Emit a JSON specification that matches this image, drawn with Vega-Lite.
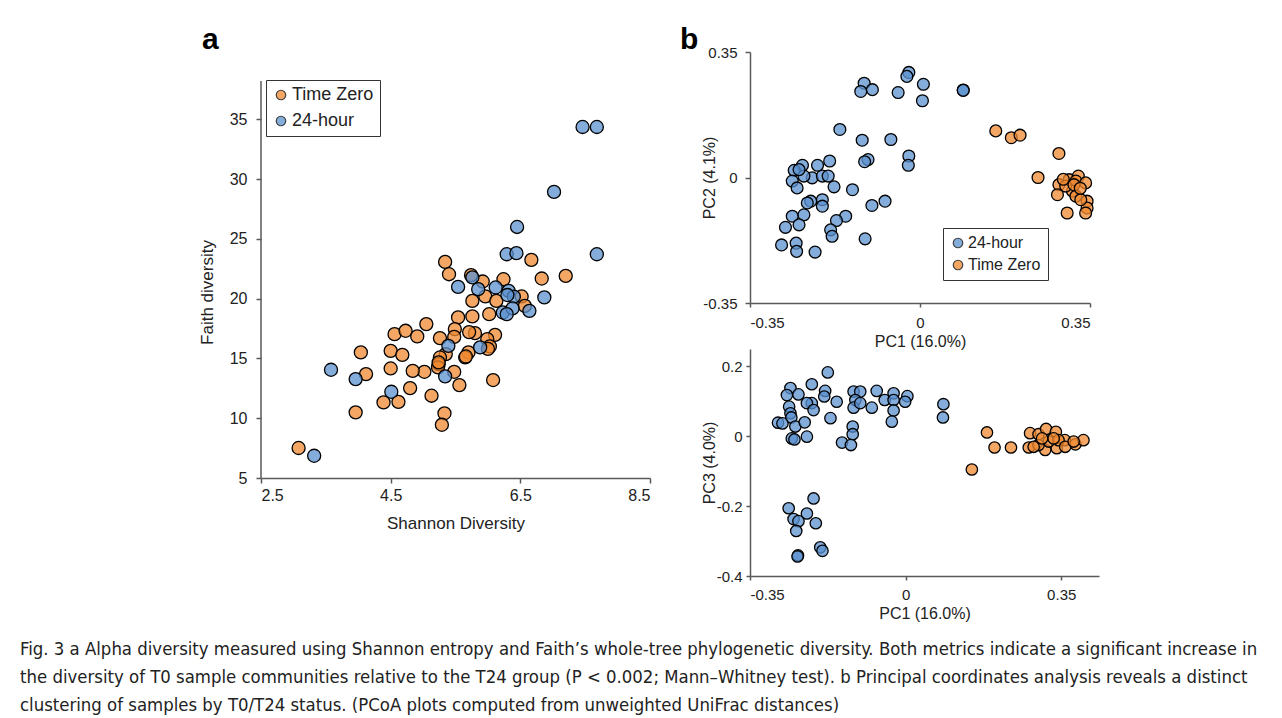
{
  "$schema": "https://vega.github.io/schema/vega-lite/v6.json",
  "padding": {"left": 20, "top": 25, "right": 5, "bottom": 2},
  "background": "white",
  "config": {
    "font": "Liberation Sans",
    "view": {"stroke": null},
    "axis": {"grid": false, "domainColor": "#595959", "domainWidth": 1.5, "tickColor": "#595959", "tickWidth": 1.5, "labelColor": "#222222", "titleColor": "#222222", "titleFontWeight": "normal", "labelFont": "Liberation Sans", "titleFont": "Liberation Sans", "labelExpr": "replace(format(datum.value, '~g'), '−', '-')"},
    "legend": {"title": null, "strokeColor": "#333333", "fillColor": "white", "symbolType": "circle", "symbolStrokeColor": "black", "symbolStrokeWidth": 1.2, "labelFont": "Liberation Sans", "labelColor": "#222222"}
  },
  "datasets": {
    "alpha": [
      {"g": "Time Zero", "x": 3.08, "y": 7.51}, {"g": "Time Zero", "x": 5.34, "y": 23.07}, {"g": "Time Zero", "x": 5.40, "y": 22.04}, {"g": "Time Zero", "x": 5.74, "y": 21.96}, {"g": "Time Zero", "x": 5.92, "y": 21.43}, {"g": "Time Zero", "x": 6.24, "y": 21.62}, {"g": "Time Zero", "x": 6.67, "y": 23.24}, {"g": "Time Zero", "x": 6.83, "y": 21.68}, {"g": "Time Zero", "x": 7.20, "y": 21.90}, {"g": "Time Zero", "x": 6.52, "y": 20.18}, {"g": "Time Zero", "x": 6.57, "y": 19.39}, {"g": "Time Zero", "x": 5.76, "y": 19.81}, {"g": "Time Zero", "x": 5.96, "y": 20.18}, {"g": "Time Zero", "x": 6.13, "y": 19.81}, {"g": "Time Zero", "x": 6.02, "y": 18.70}, {"g": "Time Zero", "x": 5.76, "y": 18.51}, {"g": "Time Zero", "x": 5.54, "y": 18.43}, {"g": "Time Zero", "x": 5.05, "y": 17.87}, {"g": "Time Zero", "x": 4.56, "y": 17.03}, {"g": "Time Zero", "x": 4.73, "y": 17.31}, {"g": "Time Zero", "x": 4.91, "y": 16.84}, {"g": "Time Zero", "x": 5.26, "y": 16.70}, {"g": "Time Zero", "x": 5.49, "y": 17.45}, {"g": "Time Zero", "x": 5.48, "y": 16.80}, {"g": "Time Zero", "x": 5.80, "y": 17.11}, {"g": "Time Zero", "x": 6.11, "y": 16.97}, {"g": "Time Zero", "x": 5.99, "y": 16.61}, {"g": "Time Zero", "x": 6.03, "y": 16.00}, {"g": "Time Zero", "x": 5.70, "y": 15.50}, {"g": "Time Zero", "x": 5.65, "y": 15.08}, {"g": "Time Zero", "x": 5.35, "y": 15.36}, {"g": "Time Zero", "x": 5.26, "y": 15.08}, {"g": "Time Zero", "x": 5.24, "y": 14.52}, {"g": "Time Zero", "x": 5.23, "y": 14.25}, {"g": "Time Zero", "x": 5.48, "y": 13.88}, {"g": "Time Zero", "x": 5.56, "y": 12.77}, {"g": "Time Zero", "x": 5.13, "y": 11.88}, {"g": "Time Zero", "x": 5.02, "y": 13.88}, {"g": "Time Zero", "x": 4.84, "y": 13.96}, {"g": "Time Zero", "x": 4.50, "y": 14.16}, {"g": "Time Zero", "x": 4.50, "y": 15.63}, {"g": "Time Zero", "x": 4.68, "y": 15.30}, {"g": "Time Zero", "x": 4.04, "y": 15.50}, {"g": "Time Zero", "x": 4.12, "y": 13.69}, {"g": "Time Zero", "x": 4.80, "y": 12.52}, {"g": "Time Zero", "x": 4.39, "y": 11.32}, {"g": "Time Zero", "x": 4.62, "y": 11.37}, {"g": "Time Zero", "x": 3.96, "y": 10.49}, {"g": "Time Zero", "x": 5.33, "y": 10.41}, {"g": "Time Zero", "x": 5.29, "y": 9.45}, {"g": "Time Zero", "x": 6.08, "y": 13.19}, {"g": "Time Zero", "x": 5.66, "y": 15.16}, {"g": "Time Zero", "x": 5.24, "y": 14.67}, {"g": "Time Zero", "x": 5.71, "y": 17.2}, {"g": "Time Zero", "x": 6.0, "y": 15.8},
      {"g": "24-hour", "x": 6.29, "y": 23.71}, {"g": "24-hour", "x": 6.44, "y": 23.80}, {"g": "24-hour", "x": 7.68, "y": 23.71}, {"g": "24-hour", "x": 7.46, "y": 34.35}, {"g": "24-hour", "x": 7.68, "y": 34.35}, {"g": "24-hour", "x": 7.02, "y": 28.92}, {"g": "24-hour", "x": 6.45, "y": 25.99}, {"g": "24-hour", "x": 6.87, "y": 20.10}, {"g": "24-hour", "x": 5.54, "y": 20.98}, {"g": "24-hour", "x": 5.76, "y": 21.77}, {"g": "24-hour", "x": 5.85, "y": 20.79}, {"g": "24-hour", "x": 6.12, "y": 20.93}, {"g": "24-hour", "x": 6.32, "y": 20.65}, {"g": "24-hour", "x": 6.40, "y": 20.16}, {"g": "24-hour", "x": 6.23, "y": 18.84}, {"g": "24-hour", "x": 6.38, "y": 19.18}, {"g": "24-hour", "x": 6.29, "y": 18.70}, {"g": "24-hour", "x": 6.64, "y": 18.98}, {"g": "24-hour", "x": 5.39, "y": 16.05}, {"g": "24-hour", "x": 5.88, "y": 15.92}, {"g": "24-hour", "x": 5.34, "y": 13.50}, {"g": "24-hour", "x": 3.58, "y": 14.05}, {"g": "24-hour", "x": 3.96, "y": 13.27}, {"g": "24-hour", "x": 4.51, "y": 12.21}, {"g": "24-hour", "x": 3.32, "y": 6.86}, {"g": "24-hour", "x": 6.30, "y": 20.3}
    ],
    "pc12": [
      {"g": "24-hour", "x": -0.023, "y": 0.293}, {"g": "24-hour", "x": -0.027, "y": 0.282}, {"g": "24-hour", "x": 0.007, "y": 0.260}, {"g": "24-hour", "x": 0.005, "y": 0.214}, {"g": "24-hour", "x": -0.045, "y": 0.237}, {"g": "24-hour", "x": -0.115, "y": 0.263}, {"g": "24-hour", "x": -0.098, "y": 0.245}, {"g": "24-hour", "x": -0.122, "y": 0.240}, {"g": "24-hour", "x": 0.089, "y": 0.244}, {"g": "24-hour", "x": 0.089, "y": 0.243}, {"g": "24-hour", "x": -0.165, "y": 0.134}, {"g": "24-hour", "x": -0.119, "y": 0.104}, {"g": "24-hour", "x": -0.060, "y": 0.106}, {"g": "24-hour", "x": -0.107, "y": 0.050}, {"g": "24-hour", "x": -0.114, "y": 0.044}, {"g": "24-hour", "x": -0.023, "y": 0.060}, {"g": "24-hour", "x": -0.024, "y": 0.034}, {"g": "24-hour", "x": -0.139, "y": -0.034}, {"g": "24-hour", "x": -0.242, "y": 0.034}, {"g": "24-hour", "x": -0.259, "y": 0.020}, {"g": "24-hour", "x": -0.211, "y": 0.034}, {"g": "24-hour", "x": -0.186, "y": 0.046}, {"g": "24-hour", "x": -0.263, "y": -0.010}, {"g": "24-hour", "x": -0.253, "y": -0.029}, {"g": "24-hour", "x": -0.222, "y": -0.001}, {"g": "24-hour", "x": -0.201, "y": 0.004}, {"g": "24-hour", "x": -0.189, "y": 0.004}, {"g": "24-hour", "x": -0.177, "y": -0.026}, {"g": "24-hour", "x": -0.239, "y": 0.004}, {"g": "24-hour", "x": -0.249, "y": 0.022}, {"g": "24-hour", "x": -0.225, "y": -0.066}, {"g": "24-hour", "x": -0.201, "y": -0.062}, {"g": "24-hour", "x": -0.201, "y": -0.080}, {"g": "24-hour", "x": -0.232, "y": -0.071}, {"g": "24-hour", "x": -0.263, "y": -0.108}, {"g": "24-hour", "x": -0.239, "y": -0.104}, {"g": "24-hour", "x": -0.249, "y": -0.132}, {"g": "24-hour", "x": -0.277, "y": -0.139}, {"g": "24-hour", "x": -0.153, "y": -0.108}, {"g": "24-hour", "x": -0.172, "y": -0.120}, {"g": "24-hour", "x": -0.184, "y": -0.146}, {"g": "24-hour", "x": -0.181, "y": -0.164}, {"g": "24-hour", "x": -0.099, "y": -0.078}, {"g": "24-hour", "x": -0.072, "y": -0.066}, {"g": "24-hour", "x": -0.113, "y": -0.171}, {"g": "24-hour", "x": -0.285, "y": -0.188}, {"g": "24-hour", "x": -0.255, "y": -0.183}, {"g": "24-hour", "x": -0.254, "y": -0.206}, {"g": "24-hour", "x": -0.216, "y": -0.208},
      {"g": "Time Zero", "x": 0.156, "y": 0.130}, {"g": "Time Zero", "x": 0.188, "y": 0.111}, {"g": "Time Zero", "x": 0.206, "y": 0.118}, {"g": "Time Zero", "x": 0.286, "y": 0.067}, {"g": "Time Zero", "x": 0.243, "y": 0.0}, {"g": "Time Zero", "x": 0.286, "y": -0.020}, {"g": "Time Zero", "x": 0.307, "y": -0.006}, {"g": "Time Zero", "x": 0.326, "y": 0.004}, {"g": "Time Zero", "x": 0.321, "y": -0.010}, {"g": "Time Zero", "x": 0.341, "y": -0.015}, {"g": "Time Zero", "x": 0.283, "y": -0.048}, {"g": "Time Zero", "x": 0.314, "y": -0.038}, {"g": "Time Zero", "x": 0.321, "y": -0.052}, {"g": "Time Zero", "x": 0.303, "y": -0.099}, {"g": "Time Zero", "x": 0.344, "y": -0.066}, {"g": "Time Zero", "x": 0.344, "y": -0.085}, {"g": "Time Zero", "x": 0.341, "y": -0.099}, {"g": "Time Zero", "x": 0.331, "y": -0.062}, {"g": "Time Zero", "x": 0.300, "y": -0.024}, {"g": "Time Zero", "x": 0.317, "y": -0.020}, {"g": "Time Zero", "x": 0.295, "y": -0.005}, {"g": "Time Zero", "x": 0.330, "y": -0.030}
    ],
    "pc13": [
      {"g": "24-hour", "x": -0.175, "y": 0.183}, {"g": "24-hour", "x": -0.211, "y": 0.149}, {"g": "24-hour", "x": -0.259, "y": 0.138}, {"g": "24-hour", "x": -0.267, "y": 0.118}, {"g": "24-hour", "x": -0.241, "y": 0.120}, {"g": "24-hour", "x": -0.181, "y": 0.130}, {"g": "24-hour", "x": -0.183, "y": 0.114}, {"g": "24-hour", "x": -0.211, "y": 0.095}, {"g": "24-hour", "x": -0.222, "y": 0.095}, {"g": "24-hour", "x": -0.207, "y": 0.075}, {"g": "24-hour", "x": -0.155, "y": 0.099}, {"g": "24-hour", "x": -0.117, "y": 0.128}, {"g": "24-hour", "x": -0.102, "y": 0.128}, {"g": "24-hour", "x": -0.113, "y": 0.104}, {"g": "24-hour", "x": -0.117, "y": 0.082}, {"g": "24-hour", "x": -0.102, "y": 0.095}, {"g": "24-hour", "x": -0.065, "y": 0.130}, {"g": "24-hour", "x": -0.076, "y": 0.082}, {"g": "24-hour", "x": -0.047, "y": 0.104}, {"g": "24-hour", "x": -0.027, "y": 0.123}, {"g": "24-hour", "x": -0.027, "y": 0.104}, {"g": "24-hour", "x": -0.027, "y": 0.074}, {"g": "24-hour", "x": -0.031, "y": 0.042}, {"g": "24-hour", "x": 0.004, "y": 0.115}, {"g": "24-hour", "x": -0.001, "y": 0.099}, {"g": "24-hour", "x": 0.085, "y": 0.092}, {"g": "24-hour", "x": 0.084, "y": 0.054}, {"g": "24-hour", "x": -0.262, "y": 0.085}, {"g": "24-hour", "x": -0.259, "y": 0.066}, {"g": "24-hour", "x": -0.257, "y": 0.054}, {"g": "24-hour", "x": -0.287, "y": 0.039}, {"g": "24-hour", "x": -0.277, "y": 0.037}, {"g": "24-hour", "x": -0.248, "y": 0.028}, {"g": "24-hour", "x": -0.227, "y": 0.040}, {"g": "24-hour", "x": -0.169, "y": 0.052}, {"g": "24-hour", "x": -0.256, "y": -0.006}, {"g": "24-hour", "x": -0.250, "y": -0.009}, {"g": "24-hour", "x": -0.222, "y": -0.001}, {"g": "24-hour", "x": -0.119, "y": 0.028}, {"g": "24-hour", "x": -0.119, "y": 0.006}, {"g": "24-hour", "x": -0.143, "y": -0.018}, {"g": "24-hour", "x": -0.123, "y": -0.025}, {"g": "24-hour", "x": -0.207, "y": -0.178}, {"g": "24-hour", "x": -0.263, "y": -0.206}, {"g": "24-hour", "x": -0.252, "y": -0.237}, {"g": "24-hour", "x": -0.241, "y": -0.243}, {"g": "24-hour", "x": -0.222, "y": -0.221}, {"g": "24-hour", "x": -0.202, "y": -0.249}, {"g": "24-hour", "x": -0.246, "y": -0.271}, {"g": "24-hour", "x": -0.192, "y": -0.318}, {"g": "24-hour", "x": -0.187, "y": -0.328}, {"g": "24-hour", "x": -0.242, "y": -0.341}, {"g": "24-hour", "x": -0.243, "y": -0.344},
      {"g": "Time Zero", "x": 0.183, "y": 0.011}, {"g": "Time Zero", "x": 0.200, "y": -0.032}, {"g": "Time Zero", "x": 0.237, "y": -0.032}, {"g": "Time Zero", "x": 0.149, "y": -0.095}, {"g": "Time Zero", "x": 0.277, "y": -0.032}, {"g": "Time Zero", "x": 0.280, "y": 0.009}, {"g": "Time Zero", "x": 0.299, "y": 0.006}, {"g": "Time Zero", "x": 0.316, "y": 0.021}, {"g": "Time Zero", "x": 0.338, "y": 0.013}, {"g": "Time Zero", "x": 0.358, "y": -0.011}, {"g": "Time Zero", "x": 0.382, "y": -0.023}, {"g": "Time Zero", "x": 0.400, "y": -0.011}, {"g": "Time Zero", "x": 0.314, "y": -0.039}, {"g": "Time Zero", "x": 0.340, "y": -0.034}, {"g": "Time Zero", "x": 0.322, "y": -0.015}, {"g": "Time Zero", "x": 0.299, "y": -0.025}, {"g": "Time Zero", "x": 0.288, "y": -0.030}, {"g": "Time Zero", "x": 0.344, "y": -0.011}, {"g": "Time Zero", "x": 0.359, "y": -0.030}, {"g": "Time Zero", "x": 0.378, "y": -0.015}, {"g": "Time Zero", "x": 0.333, "y": -0.006}, {"g": "Time Zero", "x": 0.307, "y": -0.006}
    ]
  },
  "title": {
    "text": [
      "Fig. 3 a Alpha diversity measured using Shannon entropy and Faith’s whole-tree phylogenetic diversity. Both metrics indicate a significant increase in",
      "the diversity of T0 sample communities relative to the T24 group (P < 0.002; Mann–Whitney test). b Principal coordinates analysis reveals a distinct",
      "clustering of samples by T0/T24 status. (PCoA plots computed from unweighted UniFrac distances)"
    ],
    "orient": "bottom", "anchor": "start", "frame": "group", "dx": -241, "offset": 19,
    "font": "'DejaVu Sans Condensed', 'Liberation Sans'", "fontSize": 18.4, "fontWeight": "normal", "lineHeight": 28, "color": "#222222"
  },
  "spacing": 29,
  "resolve": {"scale": {"color": "independent"}, "legend": {"color": "independent"}},
  "hconcat": [
    {
      "width": 389, "height": 426,
      "title": {"text": "a", "font": "Liberation Sans", "fontSize": 30, "fontWeight": "bold", "anchor": "start", "frame": "group", "dx": -59, "offset": -3, "color": "black"},
      "layer": [
        {
          "data": {"name": "alpha"},
          "mark": {"type": "circle", "size": 170, "stroke": "black", "strokeWidth": 1.3, "fillOpacity": 0.75, "opacity": 1},
          "encoding": {
            "x": {"field": "x", "type": "quantitative", "scale": {"domain": [2.5, 8.5], "nice": false, "zero": false},
                  "axis": {"values": [2.5, 4.5, 6.5, 8.5], "title": "Shannon Diversity", "labelFontSize": 16, "titleFontSize": 17, "tickSize": 5, "labelPadding": 4, "titlePadding": 12}},
            "y": {"field": "y", "type": "quantitative", "scale": {"domain": [5, 40.62], "nice": false, "zero": false},
                  "axis": {"values": [5, 10, 15, 20, 25, 30, 35], "domain": false, "title": "Faith diversity", "labelFontSize": 16, "titleFontSize": 17, "tickSize": 5, "labelPadding": 9, "titleX": -45, "titleY": 240}},
            "color": {"field": "g", "type": "nominal", "sort": null,
                      "scale": {"domain": ["Time Zero", "24-hour"], "range": ["#F08A30", "#5B92D0"]},
                      "legend": {"orient": "none", "legendX": 5, "legendY": 28, "padding": 6, "symbolSize": 90, "labelFontSize": 18, "rowPadding": 8, "labelOffset": 2, "symbolOpacity": 0.75}}
          }
        },
        {
          "data": {"values": [{}]},
          "mark": {"type": "rule", "color": "#595959", "strokeWidth": 1.5},
          "encoding": {
            "x": {"datum": 2.5, "type": "quantitative"},
            "y": {"datum": 5, "type": "quantitative"},
            "y2": {"datum": 38.2}
          }
        }
      ]
    },
    {
      "spacing": 46,
      "bounds": "flush",
      "resolve": {"scale": {"color": "independent"}, "legend": {"color": "independent"}},
      "vconcat": [
        {
          "width": 340, "height": 251,
          "title": {"text": "b", "font": "Liberation Sans", "fontSize": 30, "fontWeight": "bold", "anchor": "start", "frame": "group", "dx": -70, "offset": -10, "color": "black"},
          "data": {"name": "pc12"},
          "mark": {"type": "circle", "size": 140, "stroke": "black", "strokeWidth": 1.3, "fillOpacity": 0.75, "opacity": 1},
          "encoding": {
            "x": {"field": "x", "type": "quantitative", "scale": {"domain": [-0.35, 0.35], "nice": false, "zero": false},
                  "axis": {"values": [-0.35, 0, 0.35], "title": "PC1 (16.0%)", "labelFontSize": 15, "titleFontSize": 16, "tickSize": 4, "labelPadding": 8, "titlePadding": 3}},
            "y": {"field": "y", "type": "quantitative", "scale": {"domain": [-0.35, 0.35], "nice": false, "zero": false},
                  "axis": {"values": [-0.35, 0, 0.35], "title": "PC2 (4.1%)", "labelFontSize": 15, "titleFontSize": 16, "tickSize": 5, "labelPadding": 8, "titleX": -33}},
            "color": {"field": "g", "type": "nominal", "sort": null,
                      "scale": {"domain": ["24-hour", "Time Zero"], "range": ["#5B92D0", "#F08A30"]},
                      "legend": {"orient": "none", "legendX": 193, "legendY": 176, "padding": 7, "symbolSize": 90, "labelFontSize": 16, "rowPadding": 6, "labelOffset": 2, "symbolOpacity": 0.75}}
          }
        },
        {
          "width": 349, "height": 227,
          "data": {"name": "pc13"},
          "mark": {"type": "circle", "size": 130, "stroke": "black", "strokeWidth": 1.3, "fillOpacity": 0.75, "opacity": 1},
          "encoding": {
            "x": {"field": "x", "type": "quantitative", "scale": {"domain": [-0.35, 0.435], "nice": false, "zero": false},
                  "axis": {"values": [-0.35, 0, 0.35], "title": "PC1 (16.0%)", "labelFontSize": 15, "titleFontSize": 16, "tickSize": 4, "labelPadding": 7, "titlePadding": 3}},
            "y": {"field": "y", "type": "quantitative", "scale": {"domain": [-0.4, 0.25], "nice": false, "zero": false},
                  "axis": {"values": [-0.4, -0.2, 0, 0.2], "title": "PC3 (4.0%)", "labelFontSize": 15, "titleFontSize": 16, "tickSize": 4, "labelPadding": 4, "titleX": -33}},
            "color": {"field": "g", "type": "nominal",
                      "scale": {"domain": ["24-hour", "Time Zero"], "range": ["#5B92D0", "#F08A30"]},
                      "legend": null}
          }
        }
      ]
    }
  ]
}
